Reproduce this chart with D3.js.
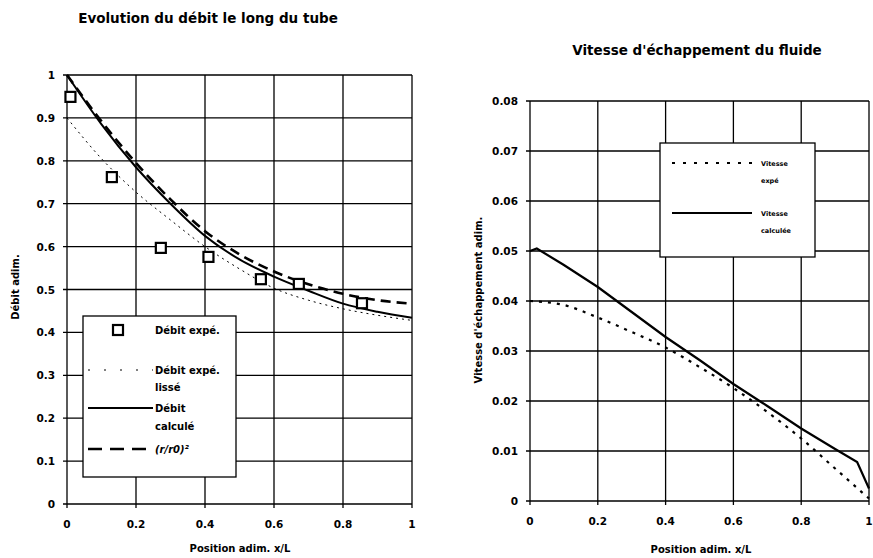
<!DOCTYPE html>
<meta charset="utf-8">
<style>
    body { margin: 0; background: #fff; }
    svg { font-family: "DejaVu Sans", sans-serif; }
    .grid line { stroke: #000; stroke-width: 1.3px; }
    .tick-label { font-size: 10.5px; font-weight: bold; fill: #000; }
    .title { font-size: 13.5px; font-weight: bold; }
    .axis-title { font-size: 10px; font-weight: bold; }
    .leg-text { font-size: 10px; font-weight: bold; }
</style>
<body>
<svg width="873" height="558"></svg>
<script src="https://d3js.org/d3.v7.min.js"></script>
<script>
    // left chart data: débit adimensionnel
    const xExpe = [0.01, 0.13, 0.272, 0.41, 0.562, 0.672, 0.855];
    const debitExpe = [0.949, 0.762, 0.597, 0.576, 0.524, 0.513, 0.468];

    const xCurve = [0, 0.1, 0.2, 0.3, 0.4, 0.5, 0.6, 0.7, 0.8, 0.9, 1.0];
    const debitLisse = [0.9, 0.805, 0.727, 0.662, 0.6, 0.548, 0.503, 0.475, 0.455, 0.44, 0.428];
    const debitCalcule = [1.0, 0.885, 0.785, 0.70, 0.625, 0.57, 0.53, 0.497, 0.467, 0.448, 0.434];
    const rapportR2 = [1.0, 0.892, 0.795, 0.71, 0.636, 0.582, 0.542, 0.512, 0.49, 0.475, 0.467];

    // right chart data: vitesse d'échappement
    const xVitExpe = [0, 0.1, 0.2, 0.3, 0.4, 0.5, 0.6, 0.7, 0.8, 0.9, 1.0];
    const vitesseExpe = [0.04, 0.0392, 0.0367, 0.0338, 0.0307, 0.0268, 0.0226, 0.0178, 0.0125, 0.0065, 0.0005];
    const xVitCalc = [0, 0.02, 0.1, 0.2, 0.3, 0.4, 0.5, 0.6, 0.7, 0.8, 0.9, 0.965, 1.0];
    const vitesseCalc = [0.05, 0.0505, 0.0472, 0.0428, 0.0378, 0.0328, 0.0282, 0.0234, 0.019, 0.0145, 0.0104, 0.0078, 0.0025];

    const xTicks = [0, 0.2, 0.4, 0.6, 0.8, 1];
    const leftYTicks = [0, 0.1, 0.2, 0.3, 0.4, 0.5, 0.6, 0.7, 0.8, 0.9, 1];
    const rightYTicks = [0, 0.01, 0.02, 0.03, 0.04, 0.05, 0.06, 0.07, 0.08];

    const svg = d3.select("svg");

    // draws grid, frame, ticks and labels for one panel
    function drawFrame(x, y, yTicks, yFmt) {
        const g = svg.append("g").attr("class", "grid");
        g.selectAll(".v").data(xTicks).enter().append("line")
            .attr("x1", d => x(d)).attr("x2", d => x(d))
            .attr("y1", y.range()[0] + 4).attr("y2", y.range()[1]);
        g.selectAll(".h").data(yTicks).enter().append("line")
            .attr("x1", x.range()[0] - 4).attr("x2", x.range()[1])
            .attr("y1", d => y(d)).attr("y2", d => y(d));

        svg.append("g").selectAll("text").data(xTicks).enter().append("text")
            .attr("class", "tick-label")
            .attr("x", d => x(d)).attr("y", y.range()[0] + 24)
            .attr("text-anchor", "middle")
            .text(d => d3.format("")(d));
        svg.append("g").selectAll("text").data(yTicks).enter().append("text")
            .attr("class", "tick-label")
            .attr("x", x.range()[0] - 12).attr("y", d => y(d) + 4)
            .attr("text-anchor", "end")
            .text(yFmt);
    }

    // ---------- left panel ----------
    const xL = d3.scaleLinear().domain([0, 1]).range([67, 412]);
    const yL = d3.scaleLinear().domain([0, 1]).range([504, 75]);
    drawFrame(xL, yL, leftYTicks, d => d3.format("")(+d.toFixed(1)));

    const lineL = ys => d3.line()
        .x((d, i) => xL(xCurve[i])).y(d => yL(d))
        .curve(d3.curveMonotoneX)(ys);

    svg.append("path").attr("d", lineL(debitLisse))
        .attr("fill", "none").attr("stroke", "#000").attr("stroke-width", 1)
        .attr("stroke-dasharray", "2,4");
    svg.append("path").attr("d", lineL(rapportR2))
        .attr("fill", "none").attr("stroke", "#000").attr("stroke-width", 2.6)
        .attr("stroke-dasharray", "10,6");
    svg.append("path").attr("d", lineL(debitCalcule))
        .attr("fill", "none").attr("stroke", "#000").attr("stroke-width", 2);

    svg.append("g").selectAll("rect").data(debitExpe).enter().append("rect")
        .attr("x", (d, i) => xL(xExpe[i]) - 5).attr("y", d => yL(d) - 5)
        .attr("width", 10).attr("height", 10)
        .attr("fill", "#fff").attr("stroke", "#000").attr("stroke-width", 2.2);

    svg.append("text").attr("class", "title")
        .attr("x", 208).attr("y", 23).attr("text-anchor", "middle")
        .text("Evolution du débit le long du tube");
    svg.append("text").attr("class", "axis-title")
        .attr("x", 240).attr("y", 552).attr("text-anchor", "middle")
        .text("Position adim. x/L");
    svg.append("text").attr("class", "axis-title")
        .attr("transform", "translate(19,287) rotate(-90)").attr("text-anchor", "middle")
        .text("Débit adim.");

    // left legend
    const legL = svg.append("g").attr("transform", "translate(83,316)");
    legL.append("rect").attr("width", 153).attr("height", 161)
        .attr("fill", "#fff").attr("stroke", "#000").attr("stroke-width", 1.3);
    legL.append("rect").attr("x", 30).attr("y", 9).attr("width", 10).attr("height", 10)
        .attr("fill", "#fff").attr("stroke", "#000").attr("stroke-width", 2.2);
    legL.append("line").attr("x1", 5).attr("x2", 70).attr("y1", 54).attr("y2", 54)
        .attr("stroke", "#000").attr("stroke-width", 1).attr("stroke-dasharray", "2,14");
    legL.append("line").attr("x1", 5).attr("x2", 70).attr("y1", 92).attr("y2", 92)
        .attr("stroke", "#000").attr("stroke-width", 2);
    legL.append("line").attr("x1", 5).attr("x2", 66).attr("y1", 133).attr("y2", 133)
        .attr("stroke", "#000").attr("stroke-width", 2.6).attr("stroke-dasharray", "14,8");
    const legLText = [["Débit expé.", 18], ["Débit expé.", 58], ["lissé", 75], ["Débit", 96], ["calculé", 114]];
    legL.selectAll(".lt").data(legLText).enter().append("text")
        .attr("class", "leg-text").attr("x", 72).attr("y", d => d[1])
        .text(d => d[0]);
    legL.append("text").attr("class", "leg-text").attr("x", 72).attr("y", 137)
        .attr("font-style", "italic").attr("font-weight", "normal").text("(r/r0)²");

    // ---------- right panel ----------
    const xR = d3.scaleLinear().domain([0, 1]).range([530, 869]);
    const yR = d3.scaleLinear().domain([0, 0.08]).range([501, 101]);
    drawFrame(xR, yR, rightYTicks, d => d3.format("")(+d.toFixed(2)));

    svg.append("path")
        .attr("d", d3.line().x((d, i) => xR(xVitExpe[i])).y(d => yR(d))
            .curve(d3.curveMonotoneX)(vitesseExpe))
        .attr("fill", "none").attr("stroke", "#000").attr("stroke-width", 2.2)
        .attr("stroke-dasharray", "3,6");
    svg.append("path")
        .attr("d", d3.line().x((d, i) => xR(xVitCalc[i])).y(d => yR(d))(vitesseCalc))
        .attr("fill", "none").attr("stroke", "#000").attr("stroke-width", 2.2);

    svg.append("text").attr("class", "title")
        .attr("x", 697).attr("y", 55).attr("text-anchor", "middle")
        .text("Vitesse d'échappement du fluide");
    svg.append("text").attr("class", "axis-title")
        .attr("x", 701).attr("y", 553).attr("text-anchor", "middle")
        .text("Position adim. x/L");
    svg.append("text").attr("class", "axis-title")
        .attr("transform", "translate(482,300) rotate(-90)").attr("text-anchor", "middle")
        .text("Vitesse d'échappement adim.");

    // right legend
    const legR = svg.append("g").attr("transform", "translate(660,143)");
    legR.append("rect").attr("width", 155).attr("height", 114)
        .attr("fill", "#fff").attr("stroke", "#000").attr("stroke-width", 1.3);
    legR.append("line").attr("x1", 12).attr("x2", 92).attr("y1", 20).attr("y2", 20)
        .attr("stroke", "#000").attr("stroke-width", 2.2).attr("stroke-dasharray", "3,8");
    legR.append("line").attr("x1", 12).attr("x2", 92).attr("y1", 70).attr("y2", 70)
        .attr("stroke", "#000").attr("stroke-width", 2.2);
    const legRText = [["Vitesse", 23], ["expé", 40], ["Vitesse", 73], ["calculée", 90]];
    legR.selectAll(".rt").data(legRText).enter().append("text")
        .attr("x", 101).attr("y", d => d[1])
        .attr("font-size", 6.5).attr("font-weight", "bold")
        .text(d => d[0]);
</script>
</body>
